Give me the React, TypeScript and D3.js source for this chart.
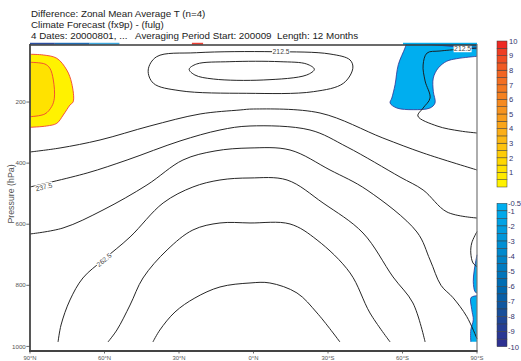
import React from 'react';
import * as d3 from 'd3';

// [latitude (deg, north positive), pressure (hPa)]
type Pt = [number, number];

const TITLE_LINES = [
  'Difference: Zonal Mean Average T (n=4)',
  'Climate Forecast (fx9p) - (fulg)',
  '4 Dates: 20000801, ...   Averaging Period Start: 200009  Length: 12 Months',
];

const LAT_TICKS = [90, 60, 30, 0, -30, -60, -90];
const LAT_TICK_LABELS = ['90°N', '60°N', '30°N', '0°N', '30°S', '60°S', '90°S'];
const PRESSURE_TICKS = [200, 400, 600, 800, 1000];

// Colour bars
const WARM_BOUNDS = [0, 0.5, 1, 1.5, 2, 2.5, 3, 3.5, 4, 4.5, 5, 5.5, 6, 6.5, 7, 7.5, 8, 8.5, 9, 9.5, 10];
const WARM_COLORS = [
  '#FFF200', '#FFEA00', '#FFE100', '#FFD700', '#FECC07', '#FDC20E', '#FCB813', '#FBAE17', '#FAA51A', '#F99C1C',
  '#F7931E', '#F68A1F', '#F58120', '#F47821', '#F36F22', '#F26522', '#F15A23', '#F04D23', '#EF3E23', '#EE2A24',
];
const WARM_TICKS = [1, 2, 3, 4, 5, 6, 7, 8, 9, 10];

const COLD_BOUNDS = [-0.5, -1, -1.5, -2, -2.5, -3, -3.5, -4, -4.5, -5, -5.5, -6, -6.5, -7, -7.5, -8, -8.5, -9, -9.5, -10];
const COLD_COLORS = [
  '#00AEEF', '#00A8EA', '#00A2E5', '#009CDF', '#0096D9', '#008FD3', '#0089CD', '#0082C6', '#007BC0', '#0074BA',
  '#006DB3', '#0066AD', '#075EA6', '#10569F', '#184E9A', '#1F4696', '#253E94', '#2A3793', '#2E3192',
];
const COLD_TICKS = [-0.5, -1, -2, -3, -4, -5, -6, -7, -8, -9, -10];

// Temperature contours (K)
const T200: Pt[] = [
  [25.9, 92.8], [22.9, 75.5], [9.5, 67.9], [-10.7, 67.9], [-21.4, 75.5], [-24.5, 92.8],
  [-21.4, 111.5], [-3.9, 127.8], [16.2, 124.6], [23.6, 111.5],
];
const T212_TROPICS: Pt[] = [
  [42.4, 95.1], [39, 51.6], [22.9, 38.5], [-8, 35.2], [-30.8, 42.7], [-38.9, 62.4], [-40, 89.5],
  [-36.2, 138.6], [-24.1, 166.1], [2.7, 171.4], [29.6, 162.9], [40.3, 138.6],
];
const T212_SOUTH: Pt[] = [
  [-90, 23.1], [-75.1, 32.9], [-69.9, 39.5], [-68.3, 78.7], [-69.1, 131.1], [-71.1, 186.8],
  [-68.3, 219.5], [-66.2, 245.7], [-73.9, 278.4], [-83.2, 294.8], [-90, 301.3],
];
const T225: Pt[] = [
  [90, 363.5], [77.9, 350.4], [61.8, 324.2], [41.7, 278.4], [21.5, 239.1], [5.4, 226], [0, 222.8],
  [-26.8, 235.9], [-52.1, 317.7], [-68.3, 366.8], [-90, 422.4],
];
const T237: Pt[] = [
  [90, 478.1], [67, 432.3], [50.9, 389.7], [29.6, 327.5], [13.5, 291.5], [1.4, 278.4], [-22.75, 291.5],
  [-37.7, 347.2], [-59, 445.4], [-68.3, 487.9], [-77.9, 559.9], [-90, 579.6],
];
const T250: Pt[] = [
  [90, 631.9], [76.7, 612.3], [60.6, 553.4], [42.9, 471.5], [28.4, 389.7], [15.5, 360.2], [1.4, 350.4],
  [-14.7, 357], [-30.8, 422.4], [-45.7, 487.9], [-65.8, 625.4], [-71.1, 717], [-75.5, 800], [-80.3, 840],
  [-85.9, 902.6], [-90, 975],
];
const T250_POLE: Pt[] = [[-90, 624], [-87.9, 661], [-87.5, 694], [-88.4, 727], [-90, 739]];
const T262: Pt[] = [
  [78.7, 985.4], [77.5, 929.8], [73.9, 848], [68.7, 776], [60.6, 717], [49.7, 641.7], [36.4, 530.5],
  [24.4, 478.1], [13.5, 455.2], [1.4, 448.6], [-13.5, 455.2], [-28, 530.5], [-44.1, 628.7],
  [-56.2, 772.7], [-64.2, 857.8], [-69.1, 985.4],
];
const T275: Pt[] = [
  [58.6, 985.4], [55, 946.2], [49.7, 864.4], [44.5, 776], [34.8, 684.3], [24.4, 618.8], [13.5, 595.9],
  [1.4, 595.9], [-14.7, 599.2], [-25.6, 651.6], [-38.9, 759.6], [-46.9, 890.5], [-55, 985.4],
];
const T287: Pt[] = [
  [40.5, 985.4], [37.7, 946.2], [31.6, 887.2], [23.6, 841.4], [13.5, 805.4], [1.4, 792.3], [-6.6, 792.3],
  [-17.5, 825], [-25.6, 890.5], [-34.8, 985.4],
];

const OPEN_CONTOURS = [T212_SOUTH, T225, T237, T250, T250_POLE, T262, T275, T287];
const CLOSED_CONTOURS = [T200, T212_TROPICS];

const CONTOUR_LABELS = [
  { text: '237.5', lat: 84.4, p: 478, angle: -14 },
  { text: '262.5', lat: 60.2, p: 717, angle: -40 },
  { text: '212.5', lat: -11.1, p: 36, angle: 0 },
  { text: '212.5', lat: -84.2, p: 25.5, angle: 0 },
];

const WARM_NP_OUTER: Pt[] = [
  [90, 43.7], [84.6, 46], [79.2, 56.8], [75.2, 95.1], [73.2, 138.6], [72.6, 198.9], [73.9, 209.7],
  [76.6, 242.4], [79.2, 269.6], [83.3, 278.4], [90, 282.7],
];
const WARM_NP_INNER: Pt[] = [
  [90, 69.9], [84, 75.5], [82, 89.5], [80.6, 127.8], [80.2, 187.7], [81.3, 215.2], [84, 239.1], [90, 248],
];
const COLD_SP_UPPER: Pt[] = [
  [-61.5, 10], [-61, 23.1], [-58.3, 77.8], [-57, 143.2], [-55.7, 186.8], [-55, 203.1], [-57.7, 219.5],
  [-64.3, 225], [-71.1, 219.5], [-73.1, 203.1], [-72.4, 164.8], [-72.4, 121.3], [-74.4, 88.6],
  [-77.8, 66.6], [-81.8, 58.1], [-90, 50.3],
];
const COLD_SP_CAP: Pt[] = [[-69, 10], [-76, 15], [-83, 20], [-90, 26]];
const COLD_SP_SFC_A: Pt[] = [[-90, 700], [-88.9, 750], [-88.5, 788], [-89.2, 821], [-90, 825]];
const COLD_SP_SFC_B: Pt[] = [[-90, 834], [-87.6, 840], [-87.9, 880], [-88.5, 913], [-87.5, 946], [-87.5, 985]];

// Thin anomaly bands along the model top: [lat from, lat to, colour]
const TOP_BANDS: [number, number, string][] = [
  [90, 80, '#2B4FA0'],
  [80, 66, '#1F6DB5'],
  [66, 54, '#3FA9E0'],
  [24.8, 20.3, '#EF4136'],
  [-60.2, -90, '#00AEEF'],
];

export default function App() {
  const x = d3.scaleLinear().domain([90, -90]).range([30, 477]);
  const y = d3.scaleLinear().domain([10, 1015]).range([44, 351]);
  const warmY = d3.scaleLinear().domain([0, 10]).range([187, 41]);
  const coldY = d3.scaleLinear().domain([-0.5, -10]).range([203.3, 346.7]);

  const open = d3.line<Pt>().x((d) => x(d[0])).y((d) => y(d[1])).curve(d3.curveCatmullRom.alpha(0.5));
  const closed = d3.line<Pt>().x((d) => x(d[0])).y((d) => y(d[1])).curve(d3.curveCatmullRomClosed.alpha(0.5));
  const region = (edge: Pt[], corners: Pt[]) =>
    (open(edge) || '') + corners.map((c) => `L${x(c[0])},${y(c[1])}`).join('') + 'Z';

  const font = 'Liberation Sans, Arial, sans-serif';
  const barX = 497;
  const barW = 10;

  return (
    <svg width={521} height={361} style={{ display: 'block', position: 'absolute', left: 0, top: 0 }}
      fontFamily={font}>
      <rect width={521} height={361} fill="#fff" />

      {TITLE_LINES.map((t, i) => (
        <text key={i} x={31} y={16.8 + i * 11.2} fontSize={9.8} fill="#222" style={{ whiteSpace: 'pre' }}>{t}</text>
      ))}

      {/* anomaly fills */}
      <path d={region(WARM_NP_OUTER, [])} fill="#FFF200" stroke="none" />
      <path d={open(WARM_NP_OUTER) || ''} fill="none" stroke="#EF4136" strokeWidth={0.9} />
      <path d={region(WARM_NP_INNER, [])} fill="#FFE200" stroke="none" />
      <path d={open(WARM_NP_INNER) || ''} fill="none" stroke="#EF4136" strokeWidth={0.9} />

      <path d={region(COLD_SP_UPPER, [[-90, 10]])} fill="#00AEEF" />
      <path d={open(COLD_SP_UPPER) || ''} fill="none" stroke="#2E3192" strokeWidth={0.8} />
      <path d={region(COLD_SP_CAP, [[-90, 10]])} fill="#0A84C8" />
      <path d={open(COLD_SP_CAP) || ''} fill="none" stroke="#2E3192" strokeWidth={0.8} />
      <path d={region(COLD_SP_SFC_A, [])} fill="#00AEEF" />
      <path d={open(COLD_SP_SFC_A) || ''} fill="none" stroke="#2E3192" strokeWidth={0.8} />
      <path d={region(COLD_SP_SFC_B, [[-90, 985]])} fill="#00AEEF" />
      <path d={open(COLD_SP_SFC_B) || ''} fill="none" stroke="#2E3192" strokeWidth={0.8} />

      {TOP_BANDS.map(([a, b, c], i) => (
        <rect key={i} x={x(a)} y={y(6)} width={x(b) - x(a)} height={y(12) - y(6)} fill={c} />
      ))}

      {/* temperature contours */}
      {CLOSED_CONTOURS.map((c, i) => (
        <path key={'c' + i} d={closed(c) || ''} fill="none" stroke="#1a1a1a" strokeWidth={0.95} />
      ))}
      {OPEN_CONTOURS.map((c, i) => (
        <path key={'o' + i} d={open(c) || ''} fill="none" stroke="#1a1a1a" strokeWidth={0.95} />
      ))}
      {CONTOUR_LABELS.map((l, i) => (
        <g key={'l' + i} transform={`translate(${x(l.lat)},${y(l.p)}) rotate(${l.angle})`}>
          <rect x={-9} y={-3.5} width={18} height={7} fill="#fff" />
          <text x={0} y={2.4} fontSize={6.8} textAnchor="middle" fill="#444">{l.text}</text>
        </g>
      ))}

      {/* frame */}
      <line x1={30} x2={477} y1={45} y2={45} stroke="#3a3a3a" strokeWidth={1.3} />
      <line x1={477} x2={477} y1={44} y2={351} stroke="#777" strokeWidth={1.2} />
      <line x1={30} x2={30} y1={44} y2={351.5} stroke="#444" strokeWidth={1.8} />
      <line x1={29} x2={477.5} y1={351} y2={351} stroke="#444" strokeWidth={1.8} />

      {PRESSURE_TICKS.map((p) => (
        <g key={p}>
          <line x1={26.3} x2={30} y1={y(p)} y2={y(p)} stroke="#444" strokeWidth={0.8} />
          <text x={25.8} y={y(p) + 2.1} fontSize={6.2} textAnchor="end" fill="#555">{p}</text>
        </g>
      ))}
      <text transform={`translate(13.5,194) rotate(-90)`} fontSize={8.8} textAnchor="middle" fill="#555">Pressure (hPa)</text>

      {LAT_TICKS.map((lat, i) => (
        <g key={lat}>
          <line x1={x(lat)} x2={x(lat)} y1={351} y2={353.5} stroke="#444" strokeWidth={0.8} />
          <text x={x(lat)} y={359.6} fontSize={5.9} textAnchor="middle" fill="#555">{LAT_TICK_LABELS[i]}</text>
        </g>
      ))}

      {/* colour bars */}
      {WARM_COLORS.map((c, i) => (
        <rect key={'w' + i} x={barX} width={barW} y={warmY(WARM_BOUNDS[i + 1])}
          height={warmY(WARM_BOUNDS[i]) - warmY(WARM_BOUNDS[i + 1])} fill={c} stroke="#3a3a3a" strokeWidth={0.5} />
      ))}
      {WARM_TICKS.map((v) => (
        <text key={'wt' + v} x={barX + barW + 2} y={warmY(v) + 2.8} fontSize={7.6} fill="#33336b">{v}</text>
      ))}
      {COLD_COLORS.map((c, i) => (
        <rect key={'k' + i} x={barX} width={barW} y={coldY(COLD_BOUNDS[i])}
          height={coldY(COLD_BOUNDS[i + 1]) - coldY(COLD_BOUNDS[i])} fill={c} stroke="#3a3a3a" strokeWidth={0.5} />
      ))}
      {COLD_TICKS.map((v) => (
        <text key={'kt' + v} x={barX + barW + 1} y={coldY(v) + 2.8} fontSize={7.6} fill="#33336b">{v}</text>
      ))}
    </svg>
  );
}
